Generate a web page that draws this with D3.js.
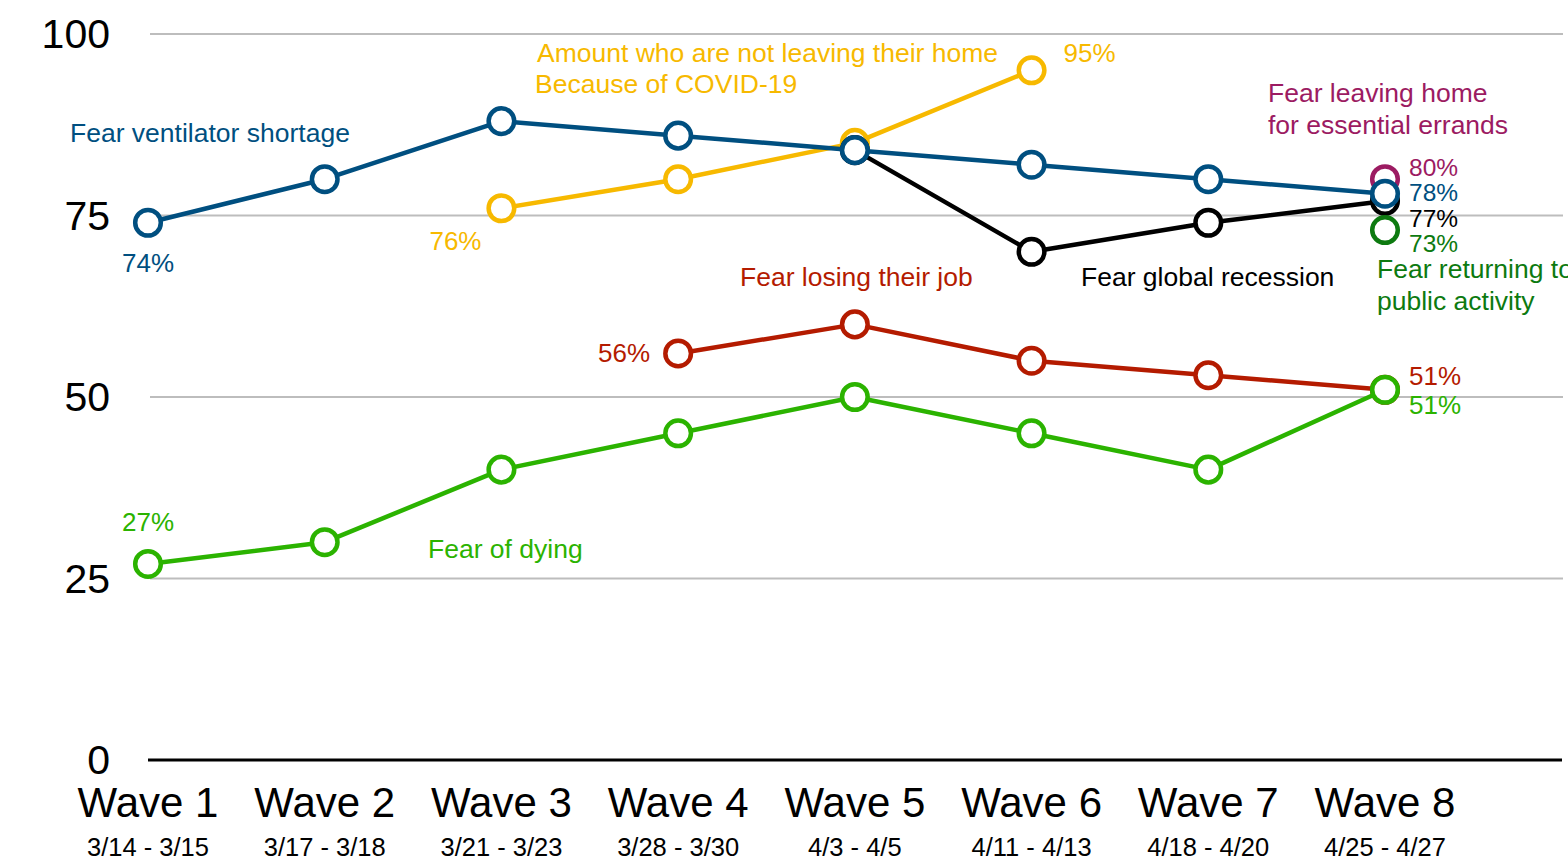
<!DOCTYPE html>
<html>
<head>
<meta charset="utf-8">
<script src="https://cdn.jsdelivr.net/npm/d3@7"></script>
<style>
  body { margin: 0; background: #fff; }
  svg text { font-family: "Liberation Sans", Arial, Helvetica, sans-serif; }
</style>
</head>
<body>
<div id="chart"></div>
<script>
// waves and their field dates
const waves = ["Wave 1", "Wave 2", "Wave 3", "Wave 4", "Wave 5", "Wave 6", "Wave 7", "Wave 8"];
const dates = ["3/14 - 3/15", "3/17 - 3/18", "3/21 - 3/23", "3/28 - 3/30", "4/3 - 4/5", "4/11 - 4/13", "4/18 - 4/20", "4/25 - 4/27"];
const yTicks = [0, 25, 50, 75, 100];

// percent of respondents, null = not asked in that wave
const notLeavingHome = [null, null, 76, 80, 85, 95, null, null];
const globalRecession = [null, null, null, null, 84, 70, 74, 77];
const losingJob = [null, null, null, 56, 60, 55, 53, 51];
const leavingForErrands = [null, null, null, null, null, null, null, 80];
const returningPublic = [null, null, null, null, null, null, null, 73];
const ventilatorShortage = [74, 80, 88, 86, 84, 82, 80, 78];
const fearOfDying = [27, 30, 40, 45, 50, 45, 40, 51];

const W = 1568, H = 860;

const svg = d3.select("#chart").append("svg")
    .attr("width", W)
    .attr("height", H);

const x = d3.scalePoint().domain(waves).range([148, 1385]);
const y = d3.scaleLinear().domain([0, 100]).range([760, 34]);

// gridlines
svg.append("g")
  .selectAll("line")
  .data(yTicks.filter(d => d > 0))
  .join("line")
    .attr("x1", 150)
    .attr("x2", 1563)
    .attr("y1", d => y(d))
    .attr("y2", d => y(d))
    .attr("stroke", "#bdbdbd")
    .attr("stroke-width", 2);

// baseline
svg.append("line")
    .attr("x1", 148)
    .attr("x2", 1562)
    .attr("y1", y(0))
    .attr("y2", y(0))
    .attr("stroke", "#000")
    .attr("stroke-width", 3);

// y tick labels
svg.append("g")
  .selectAll("text")
  .data(yTicks)
  .join("text")
    .attr("x", 110)
    .attr("y", d => y(d))
    .attr("dy", "0.35em")
    .attr("text-anchor", "end")
    .attr("font-size", 41)
    .text(d => d);

// x labels
svg.append("g")
  .selectAll("text")
  .data(waves)
  .join("text")
    .attr("x", d => x(d))
    .attr("y", 817)
    .attr("text-anchor", "middle")
    .attr("font-size", 42)
    .text(d => d);

svg.append("g")
  .selectAll("text")
  .data(dates)
  .join("text")
    .attr("x", (d, i) => x(waves[i]))
    .attr("y", 856)
    .attr("text-anchor", "middle")
    .attr("font-size", 25.5)
    .text(d => d);

const line = d3.line()
    .defined(d => d.v != null)
    .x(d => x(d.w))
    .y(d => y(d.v));

function drawSeries(values, color) {
  const pts = values.map((v, i) => ({ w: waves[i], v: v }));
  const g = svg.append("g");
  g.append("path")
      .datum(pts)
      .attr("d", line)
      .attr("fill", "none")
      .attr("stroke", color)
      .attr("stroke-width", 4.5)
      .attr("stroke-linejoin", "round");
  g.selectAll("circle")
    .data(pts.filter(d => d.v != null))
    .join("circle")
      .attr("cx", d => x(d.w))
      .attr("cy", d => y(d.v))
      .attr("r", 12.8)
      .attr("fill", "#fff")
      .attr("stroke", color)
      .attr("stroke-width", 4.5);
}

const cYellow = "#f7b900",
      cBlack = "#000000",
      cRed = "#b41b00",
      cPurple = "#9c1b62",
      cDarkGreen = "#0d7a10",
      cBlue = "#004f80",
      cGreen = "#2bb300";

drawSeries(notLeavingHome, cYellow);
drawSeries(globalRecession, cBlack);
drawSeries(losingJob, cRed);
drawSeries(leavingForErrands, cPurple);
drawSeries(returningPublic, cDarkGreen);
drawSeries(ventilatorShortage, cBlue);
drawSeries(fearOfDying, cGreen);

// annotations
function label(txt, px, py, color, anchor, size) {
  svg.append("text")
      .attr("x", px)
      .attr("y", py)
      .attr("fill", color)
      .attr("font-size", size || 26.5)
      .attr("text-anchor", anchor || "start")
      .text(txt);
}

const xEnd = x(waves[7]) + 24;

label("Fear ventilator shortage", 70, 142, cBlue);
label("74%", x(waves[0]), y(ventilatorShortage[0]) + 49, cBlue, "middle", 26);

label("Amount who are not leaving their home", 537, 62, cYellow);
label("Because of COVID-19", 535, 93, cYellow);
label("95%", x(waves[5]) + 32, 62, cYellow, "start", 26);
label("76%", x(waves[2]) - 72, y(notLeavingHome[2]) + 42, cYellow, "start", 26);

label("Fear leaving home", 1268, 102, cPurple);
label("for essential errands", 1268, 134, cPurple);

// stacked end labels at wave 8
label("80%", xEnd, 176, cPurple, "start", 24.5);
label("78%", xEnd, 201, cBlue, "start", 24.5);
label("77%", xEnd, 227, cBlack, "start", 24.5);
label("73%", xEnd, 252, cDarkGreen, "start", 24.5);

label("Fear global recession", 1081, 286, cBlack);
label("Fear returning to", 1377, 278, cDarkGreen);
label("public activity", 1377, 310, cDarkGreen);

label("Fear losing their job", 740, 286, cRed);
label("56%", x(waves[3]) - 28, y(losingJob[3]) + 9, cRed, "end", 26);
label("51%", xEnd, 385, cRed, "start", 26);
label("51%", xEnd, 414, cGreen, "start", 26);

label("27%", x(waves[0]), y(fearOfDying[0]) - 33, cGreen, "middle", 26);
label("Fear of dying", 428, 558, cGreen);
</script>
</body>
</html>
